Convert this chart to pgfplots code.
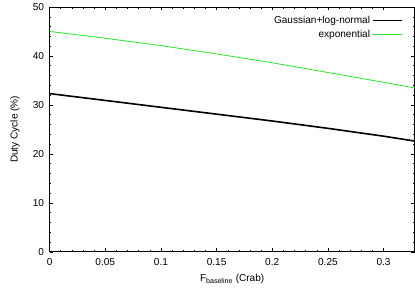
\documentclass[border=0pt]{standalone}
\usepackage{pgfplots}
\pgfplotsset{compat=1.18}
\usepackage{fontspec}
\setmainfont{Liberation Sans}
\definecolor{lgreen}{RGB}{40,230,40}
\begin{document}
\begin{tikzpicture}
\begin{axis}[
  scale only axis,
  width=361bp, height=242bp,
  xmin=0, xmax=0.328, ymin=0, ymax=50,
  xtick={0,0.05,0.1,0.15,0.2,0.25,0.3},
  ytick={0,10,20,30,40,50},
  xticklabels={0,0.05,0.1,0.15,0.2,0.25,0.3},
  minor x tick num=4, minor y tick num=4,
  tick align=inside, tick pos=both,
  major tick length=3.5pt, minor tick length=1.8pt,
  tick style={black, line width=0.4pt},
  axis line style={line width=0.5pt},
  every tick label/.append style={font=\fontsize{10}{12}\selectfont},
  xticklabel style={yshift=-3.5pt},
  yticklabel style={xshift=-2pt},
  /pgf/number format/assume math mode=true,
  xlabel={F\textsubscript{baseline} (Crab)},
  ylabel={Duty Cycle (\%)},
  label style={font=\fontsize{10}{12}\selectfont},
  xlabel style={yshift=-1.5pt},
  ylabel style={yshift=6pt},
  legend style={draw=none, fill=none, at={(0.975,0.98)}, anchor=north east,
    font=\fontsize{10}{12}\selectfont, row sep=1pt,
    legend cell align=right},
  legend plot pos=right,
  legend image code/.code={\draw[#1] (0cm,0cm) -- (1.0cm,0cm);},
]
\addplot[black, line width=1.6pt] coordinates {
(0,32.3) (0.05,30.9) (0.1,29.5) (0.15,28.1) (0.2,26.7) (0.25,25.2) (0.3,23.6) (0.328,22.6)};
\addlegendentry{Gaussian+log-normal}
\addplot[lgreen, line width=0.8pt] coordinates {
(0,45.0) (0.05,43.6) (0.1,42.1) (0.15,40.4) (0.2,38.6) (0.25,36.6) (0.3,34.6) (0.328,33.45)};
\addlegendentry{exponential}
\end{axis}
\path (current axis.south west) ++(-49bp,0) coordinate (bbl);
\end{tikzpicture}
\end{document}
